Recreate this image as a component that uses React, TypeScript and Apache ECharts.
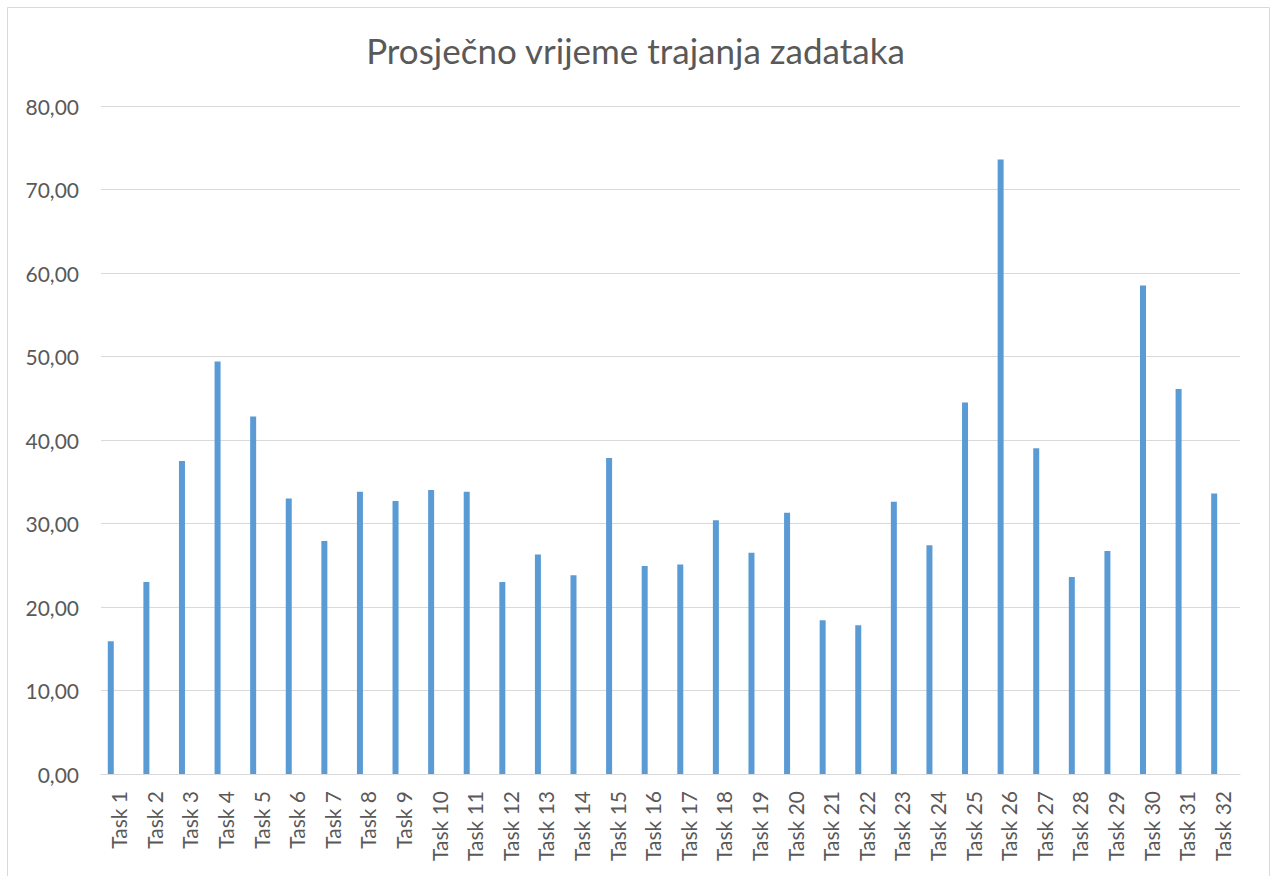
import React, { useEffect, useRef } from "react";
import * as echarts from "echarts";

const categories = Array.from({ length: 32 }, (_, i) => `Task ${i + 1}`);
const values = [
  15.9, 23.0, 37.5, 49.4, 42.8, 33.0, 27.9, 33.8, 32.7, 34.0,
  33.8, 23.0, 26.3, 23.8, 37.85, 24.9, 25.1, 30.4, 26.5, 31.3,
  18.4, 17.8, 32.6, 27.4, 44.5, 73.6, 39.0, 23.6, 26.7, 58.5,
  46.1, 33.6,
];
// second (empty) series of the clustered chart
const emptyValues: (number | null)[] = categories.map(() => null);
const title = "Prosječno vrijeme trajanja zadataka";

export default function App() {
  const ref = useRef<HTMLDivElement>(null);
  useEffect(() => {
    if (!ref.current) return;
    const chart = echarts.init(ref.current, null, { renderer: "svg" });
    chart.setOption({
      animation: false,
      backgroundColor: "#ffffff",
      textStyle: { fontFamily: "Lato" },
      title: {
        text: title,
        left: "center",
        top: 27,
        textStyle: { fontFamily: "Lato", fontSize: 35, fontWeight: "normal", color: "#595959" },
      },
      graphic: [
        {
          type: "rect",
          shape: { x: 7.5, y: 7.5, width: 1262, height: 880 },
          style: { fill: "none", stroke: "#d9d9d9", lineWidth: 1 },
          silent: true,
        },
      ],
      grid: { left: 101, right: 31, top: 106, bottom: 102, containLabel: false },
      xAxis: {
        type: "category",
        data: categories,
        axisLine: { show: true, lineStyle: { color: "#d9d9d9", width: 1 } },
        axisTick: { show: false },
        axisLabel: {
          rotate: 90,
          interval: 0,
          margin: 17,
          color: "#595959",
          fontSize: 21,
          fontFamily: "Lato",
        },
      },
      yAxis: {
        type: "value",
        min: 0,
        max: 80,
        interval: 10,
        axisLine: { show: false },
        axisTick: { show: false },
        splitLine: { lineStyle: { color: "#d9d9d9", width: 1 } },
        axisLabel: {
          margin: 22,
          color: "#595959",
          fontSize: 21,
          fontFamily: "Lato",
          formatter: (v: number) => v.toFixed(2).replace(".", ","),
        },
      },
      series: [
        {
          type: "bar",
          data: values,
          barWidth: 6,
          barGap: "167%",
          itemStyle: { color: "#5B9BD5" },
        },
        {
          type: "bar",
          data: emptyValues,
          barWidth: 6,
          itemStyle: { color: "#ED7D31" },
        },
      ],
    });
    return () => chart.dispose();
  }, []);
  return (
    <div
      ref={ref}
      style={{ position: "absolute", left: 0, top: 0, width: 1271, height: 876 }}
    />
  );
}
